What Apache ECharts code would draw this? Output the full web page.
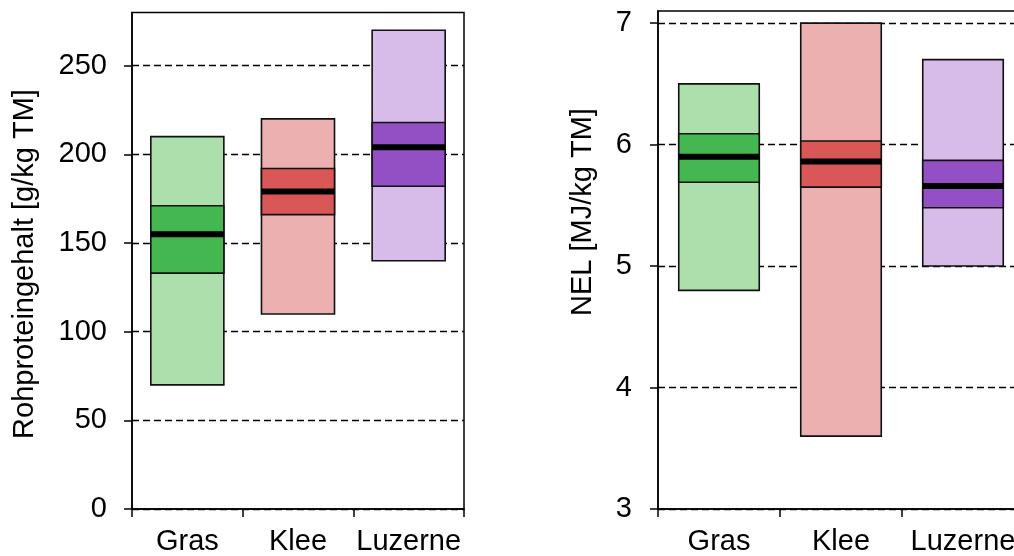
<!DOCTYPE html>
<html>
<head>
<meta charset="utf-8">
<script src="https://cdn.jsdelivr.net/npm/echarts@6/dist/echarts.min.js"></script>
<style>
html,body{margin:0;padding:0;background:#fff;}
#chart{width:1014px;height:556px;}
</style>
</head>
<body>
<div id="chart"></div>
<script>
// ---- data ----
const categories = ['Gras', 'Klee', 'Luzerne'];
// [min, q1, median, q3, max]
const proteinStats = [
  [70, 133, 155, 171, 210],
  [110, 166, 179, 192, 220],
  [140, 182, 204, 218, 270]
];
const nelStats = [
  [4.8, 5.69, 5.9, 6.09, 6.5],
  [3.6, 5.65, 5.86, 6.03, 7.0],
  [5.0, 5.48, 5.66, 5.87, 6.7]
];
const proteinTicks = [0, 50, 100, 150, 200, 250];
const nelTicks = [3, 4, 5, 6, 7];
const proteinTitle = 'Rohproteingehalt [g/kg TM]';
const nelTitle = 'NEL [MJ/kg TM]';

const lightColors = ['#ADDFAD', '#EDB0B0', '#D7BCEA'];
const darkColors = ['#45B751', '#D95757', '#9350C5'];
const FONT = 'Liberation Sans, Arial, sans-serif';

function toData(stats) {
  return stats.map((s, i) => [i].concat(s));
}

function renderBox(params, api) {
  const i = api.value(0);
  const pMin = api.coord([i, api.value(1)]);
  const pQ1 = api.coord([i, api.value(2)]);
  const pMed = api.coord([i, api.value(3)]);
  const pQ3 = api.coord([i, api.value(4)]);
  const pMax = api.coord([i, api.value(5)]);
  const band = api.size([1, 0])[0];
  const w = band * 0.66;
  const x0 = pMin[0] - w / 2;
  return {
    type: 'group',
    children: [
      { type: 'rect', shape: { x: x0, y: pMax[1], width: w, height: pMin[1] - pMax[1] },
        style: { fill: lightColors[i], stroke: '#111', lineWidth: 1.6 } },
      { type: 'rect', shape: { x: x0, y: pQ3[1], width: w, height: pQ1[1] - pQ3[1] },
        style: { fill: darkColors[i], stroke: '#111', lineWidth: 1.6 } },
      { type: 'rect', shape: { x: x0, y: pMed[1] - 3, width: w, height: 6 },
        style: { fill: '#000' } }
    ]
  };
}

function xAxisCfg(gi) {
  return {
    type: 'category', gridIndex: gi, data: categories, boundaryGap: true,
    axisLine: { show: true, lineStyle: { color: '#000', width: 1.5 } },
    axisTick: { show: true, length: 8, inside: false, alignWithLabel: false, interval: 0, lineStyle: { color: '#000', width: 1.5 } },
    axisLabel: { color: '#000', fontSize: 29, fontFamily: FONT, margin: 18, interval: 0, hideOverlap: false },
    splitLine: { show: false }
  };
}

function yAxisCfg(gi, min, max, interval, ticks, margin) {
  return {
    type: 'value', gridIndex: gi, min: min, max: max, interval: interval,
    axisLine: { show: true, lineStyle: { color: '#000', width: 1.5 } },
    axisTick: { show: true, length: 8, inside: false, customValues: ticks, lineStyle: { color: '#000', width: 1.5 } },
    axisLabel: { color: '#000', fontSize: 29, fontFamily: FONT, margin: margin, customValues: ticks },
    splitLine: { show: true, lineStyle: { color: '#000', width: 1.3, type: [7, 4] } }
  };
}

const chart = echarts.init(document.getElementById('chart'), null, { renderer: 'canvas' });
chart.setOption({
  backgroundColor: '#fff',
  animation: false,
  grid: [
    { left: 132, width: 332, top: 12.5, height: 496.5, outerBoundsMode: 'none', containLabel: false,
      show: true, borderColor: '#000', borderWidth: 1.5, backgroundColor: 'transparent' },
    { left: 658, width: 366, top: 11, height: 498, outerBoundsMode: 'none', containLabel: false,
      show: true, borderColor: '#000', borderWidth: 1.5, backgroundColor: 'transparent' }
  ],
  xAxis: [xAxisCfg(0), xAxisCfg(1)],
  yAxis: [
    yAxisCfg(0, 0, 280, 50, proteinTicks, 25),
    yAxisCfg(1, 3, 7.1, 1, nelTicks, 26)
  ],
  series: [
    { type: 'custom', xAxisIndex: 0, yAxisIndex: 0, renderItem: renderBox, data: toData(proteinStats), z: 3 },
    { type: 'custom', xAxisIndex: 1, yAxisIndex: 1, renderItem: renderBox, data: toData(nelStats), z: 3 }
  ],
  graphic: [
    { type: 'text', x: 25, y: 264, rotation: Math.PI / 2,
      style: { text: proteinTitle, font: '29px ' + FONT, fill: '#000', align: 'center', verticalAlign: 'middle' } },
    { type: 'text', x: 583, y: 212, rotation: Math.PI / 2,
      style: { text: nelTitle, font: '29px ' + FONT, fill: '#000', align: 'center', verticalAlign: 'middle' } }
  ]
});
</script>
</body>
</html>
